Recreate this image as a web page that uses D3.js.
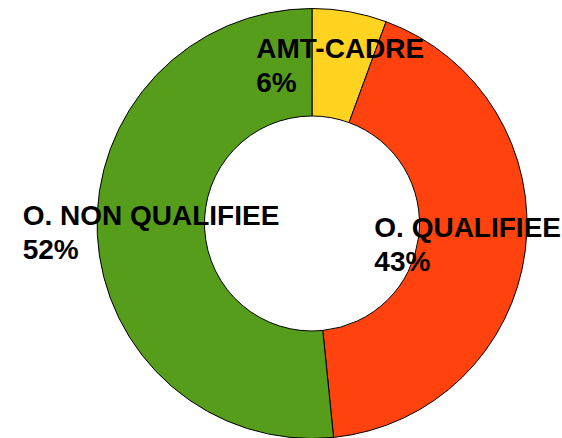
<!DOCTYPE html>
<html>
<head>
<meta charset="utf-8">
<script src="https://cdn.jsdelivr.net/npm/d3@7"></script>
<style>
  body { margin: 0; background: #fff; }
  text { font-family: "Liberation Sans", Arial, sans-serif; font-weight: bold; }
</style>
</head>
<body>
<div id="chart"></div>
<script>
(function donut() {

  var width = 562;
  var height = 438;

  // categories, clockwise from 12 o'clock
  var categories = ['AMT-CADRE', 'O. QUALIFIEE', 'O. NON QUALIFIEE'];
  var values = [5.6, 42.8, 51.6];
  var colors = ['#ffd320', '#ff420e', '#579d1c'];

  var cx = 312;
  var cy = 223.5;
  var outer = 215;
  var inner = 107.5;
  var fontSize = 28;
  var lineGap = 34;

  var svg = d3.select('#chart')
    .append('svg')
    .attr('width', width)
    .attr('height', height);

  var g = svg.append('g')
    .attr('transform', 'translate(' + cx + ',' + cy + ')');

  var total = d3.sum(values);

  var pie = d3.pie()
    .sort(null)
    .value(function(d) { return d; });

  var arc = d3.arc()
    .innerRadius(inner)
    .outerRadius(outer);

  var slices = pie(values);

  g.selectAll('path')
    .data(slices)
    .enter()
    .append('path')
    .attr('d', arc)
    .attr('fill', function(d, i) { return colors[i]; })
    .attr('stroke', '#000')
    .attr('stroke-width', 1);

  // labels: block centred on the slice centroid, lines left aligned
  var labels = g.selectAll('.label')
    .data(slices)
    .enter()
    .append('text')
    .attr('class', 'label')
    .style('font-size', fontSize + 'px')
    .attr('fill', '#000');

  labels.append('tspan')
    .attr('class', 'l1')
    .text(function(d, i) { return categories[i]; });

  labels.append('tspan')
    .attr('class', 'l2')
    .text(function(d) { return Math.round(d.value / total * 100) + '%'; });

  labels.each(function(d) {
    var t = d3.select(this);
    var c = arc.centroid(d);
    var w = Math.max(
      t.select('.l1').node().getComputedTextLength(),
      t.select('.l2').node().getComputedTextLength()
    );
    // keep the block inside the picture
    var x0 = Math.min(c[0] - w / 2, width - cx - w - 1);
    x0 = Math.max(x0, 1 - cx);
    var base = c[1] - (lineGap - fontSize * 0.716) / 2;
    t.select('.l1').attr('x', x0).attr('y', base);
    t.select('.l2').attr('x', x0).attr('y', base + lineGap);
  });

})();
</script>
</body>
</html>
